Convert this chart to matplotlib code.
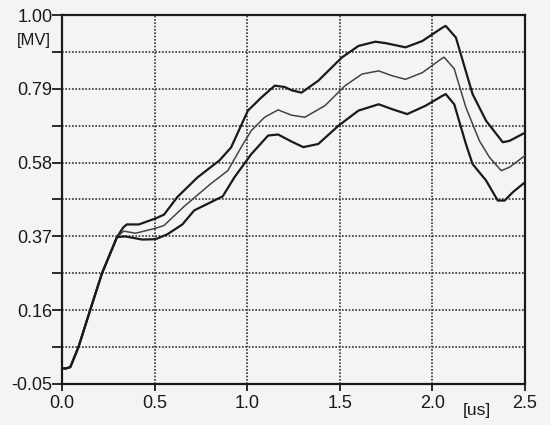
import numpy as np
import matplotlib.pyplot as plt

plt.rcParams['font.family'] = ['Liberation Sans', 'DejaVu Sans']

# shared rising front (all three curves coincide here)
x_front = [0.0, 0.02, 0.045, 0.089, 0.152, 0.216, 0.297]
y_front = [-0.005, -0.006, -0.002, 0.055, 0.16, 0.265, 0.368]

# upper envelope
x_up = [0.33, 0.35, 0.415, 0.505, 0.551, 0.623, 0.732, 0.85, 0.913, 1.004, 1.076,
        1.149, 1.203, 1.239, 1.293, 1.384, 1.511, 1.601, 1.692, 1.747, 1.855, 1.946,
        2.054, 2.072, 2.127, 2.217, 2.29, 2.38, 2.417, 2.5]
y_up = [0.395, 0.404, 0.404, 0.421, 0.432, 0.482, 0.538, 0.586, 0.623, 0.728, 0.765,
        0.799, 0.795, 0.786, 0.779, 0.813, 0.879, 0.912, 0.924, 0.92, 0.908, 0.926,
        0.964, 0.969, 0.936, 0.775, 0.699, 0.638, 0.642, 0.665]

# middle (mean) curve
x_mid = [0.333, 0.397, 0.505, 0.551, 0.659, 0.804, 0.895, 0.967, 1.022, 1.094, 1.167,
         1.239, 1.311, 1.42, 1.529, 1.62, 1.71, 1.783, 1.855, 1.946, 2.045, 2.063,
         2.118, 2.181, 2.254, 2.308, 2.372, 2.417, 2.5]
y_mid = [0.385, 0.379, 0.393, 0.401, 0.455, 0.52, 0.557, 0.623, 0.671, 0.709, 0.73,
         0.715, 0.709, 0.742, 0.799, 0.832, 0.841, 0.827, 0.817, 0.836, 0.874, 0.88,
         0.847, 0.737, 0.642, 0.595, 0.557, 0.567, 0.6]

# lower envelope
x_lo = [0.342, 0.433, 0.505, 0.569, 0.65, 0.714, 0.868, 0.931, 1.022, 1.113, 1.167,
        1.239, 1.303, 1.384, 1.493, 1.601, 1.71, 1.783, 1.864, 1.964, 2.054, 2.072,
        2.118, 2.181, 2.217, 2.29, 2.353, 2.39, 2.435, 2.5]
y_lo = [0.37, 0.361, 0.362, 0.376, 0.404, 0.444, 0.484, 0.538, 0.604, 0.657, 0.66,
        0.64, 0.624, 0.633, 0.685, 0.728, 0.746, 0.732, 0.718, 0.742, 0.77, 0.775,
        0.746, 0.633, 0.576, 0.529, 0.472, 0.472, 0.496, 0.524]

y_ticks = np.round(np.linspace(-0.05, 1.0, 11), 3)
y_labels = ['-0.05', '', '0.16', '', '0.37', '', '0.58', '', '0.79', '', '1.00']
x_ticks = [0.0, 0.5, 1.0, 1.5, 2.0, 2.5]
x_labels = ['0.0', '0.5', '1.0', '1.5', '2.0', '2.5']

bg = '#f4f3f6'
fig = plt.figure(figsize=(5.5, 4.25), dpi=100, facecolor=bg)
ax = fig.add_axes([0.1127, 0.0965, 0.8418, 0.8682])
ax.set_facecolor(bg)

kw = dict(solid_joinstyle='round', solid_capstyle='round', zorder=3)
ax.plot(x_front + x_up, y_front + y_up, color='#1a1a1a', lw=1.6, **kw)
ax.plot(x_front + x_mid, y_front + y_mid, color='#444444', lw=1.1, **kw)
ax.plot(x_front + x_lo, y_front + y_lo, color='#1a1a1a', lw=1.6, **kw)

ax.set_xlim(0, 2.5)
ax.set_ylim(-0.05, 1.0)
ax.set_xticks(x_ticks)
ax.set_xticklabels(x_labels)
ax.set_yticks(y_ticks)
ax.set_yticklabels(y_labels)

ax.grid(True, color='#333333', linestyle=(0, (1, 1)), lw=1.2)
for s in ax.spines.values():
    s.set_linewidth(1.6)
    s.set_color('#1a1a1a')

ax.tick_params(axis='y', length=7, width=1.3, pad=0, labelsize=13, colors='#1a1a1a')
ax.tick_params(axis='x', length=5, width=1.3, pad=3, labelsize=13, colors='#1a1a1a')

fig.text(34 / 550, 1 - 40 / 425, '[MV]', fontsize=12, ha='center', va='center', color='#1a1a1a')
fig.text(477 / 550, 1 - 411 / 425, '[us]', fontsize=12.5, ha='center', va='center', color='#1a1a1a')

fig.savefig('out.png', dpi=100, facecolor=bg)
